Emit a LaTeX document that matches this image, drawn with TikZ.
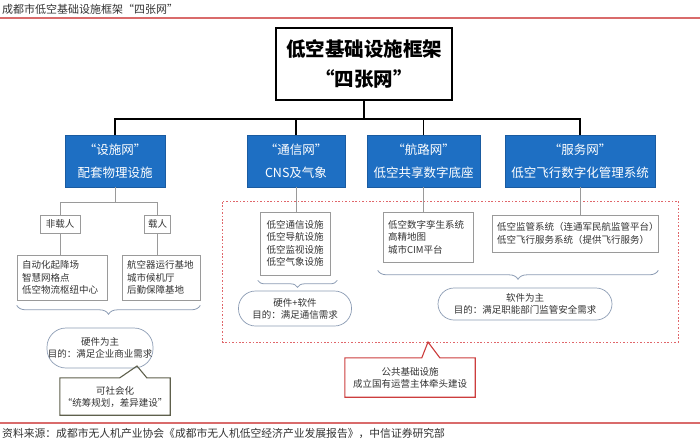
\documentclass[tikz,border=0pt]{standalone}
\usepackage{fontspec}
\setmainfont{Noto Sans CJK SC}
\usetikzlibrary{decorations.pathreplacing,calc}
\definecolor{nblue}{HTML}{1E6FC3}
\definecolor{nbluedk}{HTML}{1A5BA0}
\definecolor{redln}{HTML}{D96B6B}
\definecolor{grayln}{HTML}{9A9A9A}
\definecolor{bracec}{HTML}{8C9CB4}
\definecolor{olivec}{HTML}{5E604C}
\definecolor{reddash}{HTML}{E0666A}
\definecolor{redbox}{HTML}{CC3D3D}
\definecolor{txt}{HTML}{333333}
\begin{document}
\begin{tikzpicture}[x=1pt,y=-1pt,
  mainbox/.style={draw=black, line width=1.4pt, minimum width=176pt, minimum height=72pt, align=center, inner sep=0pt, font=\fontsize{19.5}{30}\selectfont\bfseries},
  bluebox/.style={draw=nbluedk, fill=nblue, text=white, inner sep=0pt, align=center, minimum height=52pt, font=\fontsize{12.5}{23}\selectfont},
  smallbox/.style={draw=grayln, line width=0.6pt, inner sep=0pt, align=center, text=txt, font=\fontsize{9.5}{12.5}\selectfont},
  listbox/.style={draw=grayln, line width=0.6pt, inner xsep=5pt, inner ysep=0pt, align=left, text=txt, font=\fontsize{9.5}{12.5}\selectfont},
  stadium/.style={draw=bracec, line width=0.7pt, inner sep=0pt, align=center, text=txt, font=\fontsize{9.5}{12}\selectfont},
  treeline/.style={draw=black, line width=1.3pt},
  subline/.style={draw=grayln, line width=0.7pt},
  bracestyle/.style={draw=bracec, line width=0.8pt, decorate},
  calloutbox/.style={inner sep=0pt, align=center, text=txt, font=\fontsize{9.5}{12}\selectfont},
  textonly/.style={inner sep=0pt, text=txt, font=\fontsize{11}{13}\selectfont}
]
\fill[white] (0,0) rectangle (700,442);
\useasboundingbox (0,0) rectangle (700,442);

% title and source
\node[textonly, anchor=west] (title) at (2,9) {成都市低空基础设施框架“四张网”};
\coordinate (r1a) at (0,18);
\coordinate (r1b) at (700,18);
\draw[redln, line width=1.4pt] (r1a) -- (r1b);
\coordinate (r2a) at (0,423);
\coordinate (r2b) at (700,423);
\draw[redln, line width=1.2pt] (r2a) -- (r2b);
\node[textonly, anchor=west, font=\fontsize{10.8}{13}\selectfont] (src) at (2,433) {资料来源：成都市无人机产业协会《成都市无人机低空经济产业发展报告》，中信证券研究部};

% main box
\node[mainbox] (main) at (364,64) {低空基础设施框架\\“四张网”};

% blue boxes
\node[bluebox, minimum width=100pt] (b1) at (115,161) {“设施网”\\配套物理设施};
\node[bluebox, minimum width=98pt] (b2) at (296,161) {“通信网”\\CNS及气象};
\node[bluebox, minimum width=113pt] (b3) at (423.5,161) {“航路网”\\低空共享数字底座};
\node[bluebox, minimum width=150pt] (b4) at (580,161) {“服务网”\\低空飞行数字化管理系统};

\coordinate (hub) at (364,119);
\draw[treeline] (main.south) -- (hub);
\draw[treeline] (hub) -| (b1.north);
\draw[treeline] (hub) -| (b2.north);
\draw[treeline] (hub) -| (b3.north);
\draw[treeline] (hub) -| (b4.north);

% left tree
\node[smallbox, minimum width=40pt, minimum height=18pt] (n1) at (60,224) {非载人};
\node[smallbox, minimum width=26pt, minimum height=18pt] (n2) at (157.5,224) {载人};
\coordinate (j1) at (115,202);
\draw[subline] (b1.south) -- (j1);
\draw[subline] (j1) -| (n1.north);
\draw[subline] (j1) -| (n2.north);

\node[listbox, text width=80pt, minimum height=45pt] (L1) at (62,277.5) {自动化起降场\\智慧网格点\\低空物流枢纽中心};
\node[listbox, text width=68pt, minimum height=45pt] (L2) at (161,277.5) {航空器运行基地\\城市候机厅\\后勤保障基地};
\draw[subline] (n1.south) -- (n1.south |- L1.north);
\draw[subline] (n2.south) -- (n2.south |- L2.north);

\draw[bracestyle, decoration={brace, mirror, amplitude=9pt}] ($(L1.south west)+(0,5)$) -- ($(L2.south east)+(0,5)$);

\node[stadium, minimum width=106pt, minimum height=40pt, rounded corners=19pt] (S1) at (100,348) {硬件为主\\目的：满足企业商业需求};

% olive callout
\node[calloutbox, minimum width=110pt, minimum height=37pt] (c1) at (115,396.5) {可社会化\\“统筹规划，差异建设”};
\coordinate (c1tip) at (137,366);
\draw[olivec, line width=1.1pt, line join=miter] (c1.north west) -- ($(c1.north west)+(60,0)$) -- (c1tip) -- ($(c1.north west)+(87,0)$) -- (c1.north east) -- (c1.south east) -- (c1.south west) -- cycle;

% red dashed group
\node[draw=reddash, line width=1pt, dash pattern=on 1.6pt off 1.8pt, minimum width=456pt, minimum height=141pt, inner sep=0pt] (grp) at (450,271.5) {};

% middle boxes
\node[smallbox, minimum width=70pt, minimum height=63pt] (M1) at (295,243.5) {低空通信设施\\低空导航设施\\低空监视设施\\低空气象设施};
\node[listbox, text width=80pt, minimum height=50pt] (M2) at (428,237) {低空数字孪生系统\\高精地图\\城市CIM平台};
\node[listbox, text width=156pt, minimum height=37pt] (M3) at (575,233.5) {低空监管系统（连通军民航监管平台）\\低空飞行服务系统（提供飞行服务）};

\draw[subline] (b2.south) -- (b2.south |- M1.north);
\draw[subline] (b3.south) -- (b3.south |- M2.north);
\draw[subline] (b4.south) -- (b4.south |- M3.north);

\draw[bracestyle, decoration={brace, mirror, amplitude=7pt}] ($(M1.south west)+(-2,5)$) -- ($(M1.south east)+(7,5)$);
\node[stadium, minimum width=113pt, minimum height=35pt, rounded corners=17pt] (S2) at (295,308.5) {硬件+软件\\目的：满足通信需求};

\draw[bracestyle, decoration={brace, mirror, amplitude=9pt}] ($(M2.south west)+(-5,8)$) -- ($(M3.south east)+(0,18)$);
\node[stadium, minimum width=174pt, minimum height=32pt, rounded corners=16pt] (S3) at (525,304) {软件为主\\目的：满足职能部门监管安全需求};

% red callout
\node[calloutbox, minimum width=130pt, minimum height=39pt] (c2) at (410,377.5) {公共基础设施\\成立国有运营主体牵头建设};
\coordinate (c2tip) at (428,342);
\draw[redbox, line width=1.1pt, line join=miter] (c2.north west) -- ($(c2.north west)+(77,0)$) -- (c2tip) -- ($(c2.north west)+(95,0)$) -- (c2.north east) -- (c2.south east) -- (c2.south west) -- cycle;
\end{tikzpicture}
\end{document}
